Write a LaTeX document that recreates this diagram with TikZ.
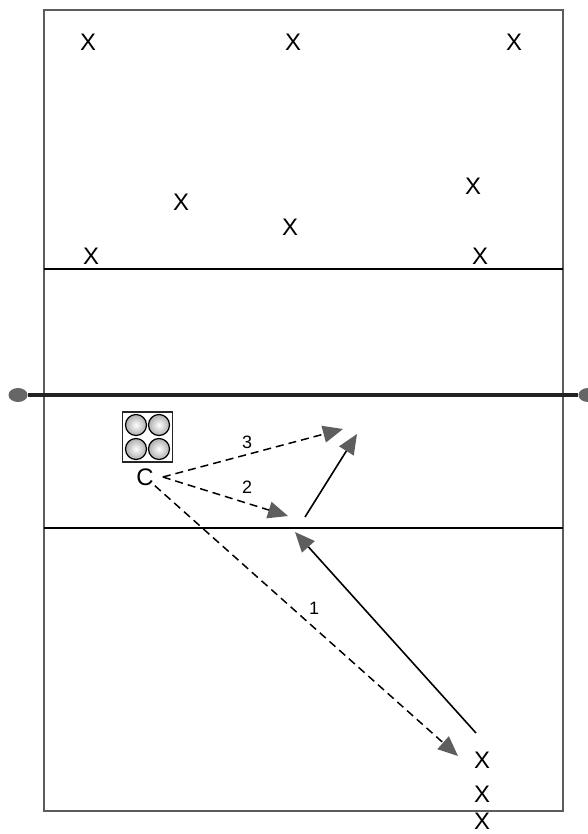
\documentclass[tikz,border=0pt]{standalone}
\usepackage{fontspec}
\setmainfont{Liberation Sans}
\usepackage{xcolor}
\usetikzlibrary{arrows.meta,shapes.geometric}
\definecolor{crtG}{HTML}{5C5C5C}
\definecolor{tipG}{HTML}{5E5E5E}
\definecolor{postG}{HTML}{666666}
\definecolor{netK}{HTML}{222222}

\begin{document}
\begin{tikzpicture}[x=1bp,y=-1bp,
  plr/.style={font=\fontsize{24}{24}\selectfont,inner sep=0pt},
  lbl/.style={font=\fontsize{18}{18}\selectfont,inner sep=0pt},
  pass/.style={line width=1.5bp,dash pattern=on 8bp off 5bp,-{Triangle[length=20bp,width=17bp,color=tipG,fill=tipG]}},
  run/.style={line width=1.6bp,-{Triangle[length=20bp,width=17bp,color=tipG,fill=tipG]}},
  ball/.style={circle,draw=black,line width=1.2bp,inner color=white,outer color=black!32,minimum size=21bp,inner sep=0pt},
  post/.style={ellipse,fill=postG,minimum width=19bp,minimum height=14bp,inner sep=0pt}]
\useasboundingbox (0,0) rectangle (588,834);
% court
\draw[crtG,line width=2bp] (44,10) rectangle (563,811);
\draw[line width=2bp] (44,269) -- (563,269);
\draw[line width=2bp] (44,528) -- (563,528);
% net
\node[post] (postL) at (18,395) {};
\node[post] (postR) at (588,395) {};
\draw[netK,line width=4.5bp] (postL.east) -- (postR.west);
% far side
\node[plr] (xA) at (88,42) {X};
\node[plr] (xB) at (293,42) {X};
\node[plr] (xC) at (514,42) {X};
\node[plr] (xD) at (181,202) {X};
\node[plr] (xE) at (290,227) {X};
\node[plr] (xF) at (473,186) {X};
\node[plr] (xG) at (91,256) {X};
\node[plr] (xH) at (480,256) {X};
% line
\node[plr] (q1) at (482,760) {X};
\node[plr] (q2) at (482,794) {X};
\node[plr] (q3) at (482,821) {X};
% coach and balls
\node[draw=black!85,line width=1.8bp,minimum size=50bp,inner sep=0pt] (cart) at (147.5,437) {};
\node[ball] (b1) at (136,425) {};
\node[ball] (b2) at (159,425) {};
\node[ball] (b3) at (136,449) {};
\node[ball] (b4) at (159,449) {};
\node[plr] (C) at (145,477) {C};
% targets
\coordinate (t1) at (458,756);
\coordinate (t2) at (288,516);
\coordinate (t3) at (343,429);
\coordinate (r1) at (476,733);
\coordinate (r2) at (295,532);
\coordinate (r3) at (305,517);
\coordinate (r4) at (357,434);
\draw[pass] ([xshift=1bp]C.south east) -- (t1);
\draw[pass] ([xshift=9bp]C.east) -- (t2);
\draw[pass] ([xshift=9bp]C.east) -- (t3);
\draw[run] (r1) -- (r2);
\draw[run] (r3) -- (r4);
\node[lbl] (n1) at (314,608) {1};
\node[lbl] (n2) at (247,487) {2};
\node[lbl] (n3) at (247,442) {3};
\end{tikzpicture}
\end{document}
